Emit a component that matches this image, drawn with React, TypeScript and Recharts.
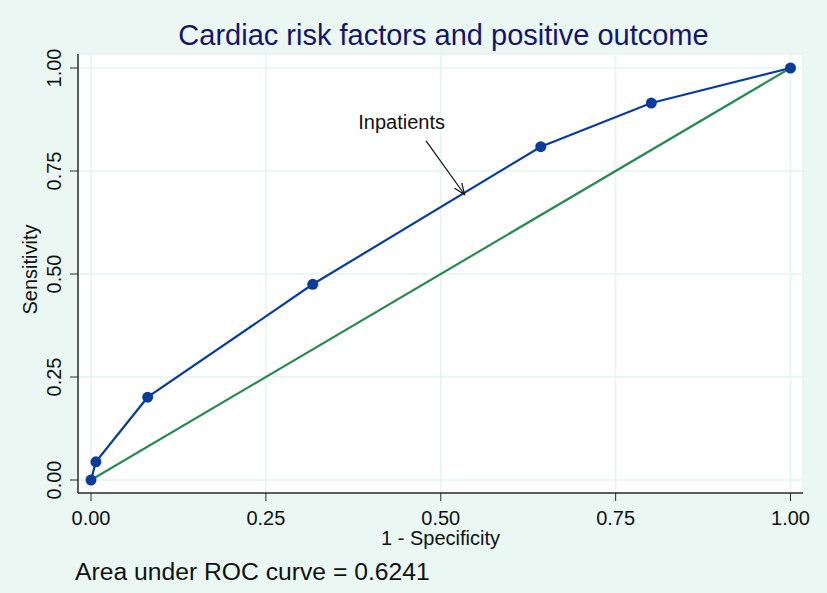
import {
  ComposedChart,
  CartesianGrid,
  Line,
  ReferenceDot,
  ReferenceLine,
  XAxis,
  YAxis,
} from "recharts"

// ROC points (1 - specificity, sensitivity)
const fpr = [0, 0.007, 0.081, 0.317, 0.643, 0.801, 1]
const tpr = [0, 0.044, 0.201, 0.475, 0.809, 0.915, 1]
const diagonal = [0, 1]
const ticks = [0, 0.25, 0.5, 0.75, 1]
const tickLabels = ["0.00", "0.25", "0.50", "0.75", "1.00"]

const title = "Cardiac risk factors and positive outcome"
const xTitle = "1 - Specificity"
const yTitle = "Sensitivity"
const note = "Area under ROC curve = 0.6241"
const annotation = "Inpatients"
const arrowFrom = { x: 0.479, y: 0.823 }
const arrowTo = { x: 0.534, y: 0.693 }
const annotationAt = { x: 0.444, y: 0.852 }

const rocData = fpr.map((x, i) => ({ x, y: tpr[i] }))
const refData = diagonal.map((v) => ({ x: v, y: v }))

const font = "'Liberation Sans', Arial, Helvetica, sans-serif"
const blue = "#0c3c9a"
const green = "#2a8a57"
const bg = "#eaf7f2"
const axisColor = "#2b2b2b"

const labelFor = (v: number) => tickLabels[ticks.indexOf(v)] ?? String(v)

function XTick(props: any) {
  const { x, y, payload } = props
  return (
    <text x={x} y={y + 22} textAnchor="middle" fontSize={20} fontFamily={font} fill="#111">
      {labelFor(payload.value)}
    </text>
  )
}

function YTick(props: any) {
  const { x, y, payload } = props
  const tx = x - 7
  return (
    <text
      x={tx}
      y={y}
      textAnchor="middle"
      fontSize={20}
      fontFamily={font}
      fill="#111"
      transform={`rotate(-90 ${tx} ${y})`}
    >
      {labelFor(payload.value)}
    </text>
  )
}

export default function App() {
  return (
    <div
      style={{
        position: "fixed",
        left: 0,
        top: 0,
        width: 827,
        height: 593,
        background: bg,
        fontFamily: font,
      }}
    >
      <svg
        width={827}
        height={593}
        style={{ position: "absolute", left: 0, top: 0, pointerEvents: "none" }}
      >
        <text x={443.5} y={45} textAnchor="middle" fontSize={29} fontFamily={font} fill="#15156a">
          {title}
        </text>
        <text x={75} y={580} fontSize={24.7} fontFamily={font} fill="#111">
          {note}
        </text>
      </svg>
      <div style={{ position: "absolute", left: 0, top: 0 }}>
        <ComposedChart width={827} height={593} margin={{ top: 54, right: 24, bottom: 0, left: 0 }}>
          <defs>
            <marker
              id="arrowHead"
              markerUnits="userSpaceOnUse"
              markerWidth={14}
              markerHeight={12}
              refX={12}
              refY={6}
              orient="auto"
            >
              <path d="M1,1.5 L12,6 L1,10.5" fill="none" stroke="#111" strokeWidth={1.2} />
            </marker>
          </defs>
          <CartesianGrid fill="#ffffff" stroke="#e4f5f0" strokeWidth={1.5} />
          <XAxis
            type="number"
            dataKey="x"
            domain={[0, 1]}
            ticks={ticks}
            height={100}
            padding={{ left: 13, right: 12.5 }}
            tickSize={8}
            tickLine={{ stroke: axisColor }}
            axisLine={{ stroke: axisColor, strokeWidth: 1.5 }}
            tick={<XTick />}
            label={{
              content: (p: any) => {
                const vb = p.viewBox
                return (
                  <text
                    x={vb.x + vb.width / 2}
                    y={545}
                    textAnchor="middle"
                    fontSize={20}
                    fontFamily={font}
                    fill="#111"
                  >
                    {xTitle}
                  </text>
                )
              },
            }}
          />
          <YAxis
            type="number"
            dataKey="y"
            domain={[0, 1]}
            ticks={ticks}
            width={78}
            padding={{ top: 14, bottom: 13 }}
            tickSize={8}
            tickLine={{ stroke: axisColor }}
            axisLine={{ stroke: axisColor, strokeWidth: 1.5 }}
            tick={<YTick />}
            label={{
              content: (p: any) => {
                const vb = p.viewBox
                const cy = vb.y + vb.height / 2 - 4
                return (
                  <text
                    x={37}
                    y={cy}
                    textAnchor="middle"
                    fontSize={20}
                    fontFamily={font}
                    fill="#111"
                    transform={`rotate(-90 37 ${cy})`}
                  >
                    {yTitle}
                  </text>
                )
              },
            }}
          />
          <Line
            data={rocData}
            dataKey="y"
            type="linear"
            stroke={blue}
            strokeWidth={2.2}
            dot={{ r: 5.5, fill: blue, stroke: blue, strokeWidth: 0 }}
            isAnimationActive={false}
          />
          <Line
            data={refData}
            dataKey="y"
            type="linear"
            stroke={green}
            strokeWidth={2.2}
            dot={false}
            isAnimationActive={false}
          />
          <ReferenceLine
            segment={[arrowFrom, arrowTo]}
            shape={(p: any) => (
              <line
                x1={p.x1}
                y1={p.y1}
                x2={p.x2}
                y2={p.y2}
                stroke="#111"
                strokeWidth={1.2}
                markerEnd="url(#arrowHead)"
              />
            )}
          />
          <ReferenceDot
            x={annotationAt.x}
            y={annotationAt.y}
            shape={(p: any) => (
              <text x={p.cx} y={p.cy} textAnchor="middle" fontSize={20} fontFamily={font} fill="#111">
                {annotation}
              </text>
            )}
          />
        </ComposedChart>
      </div>
    </div>
  )
}
